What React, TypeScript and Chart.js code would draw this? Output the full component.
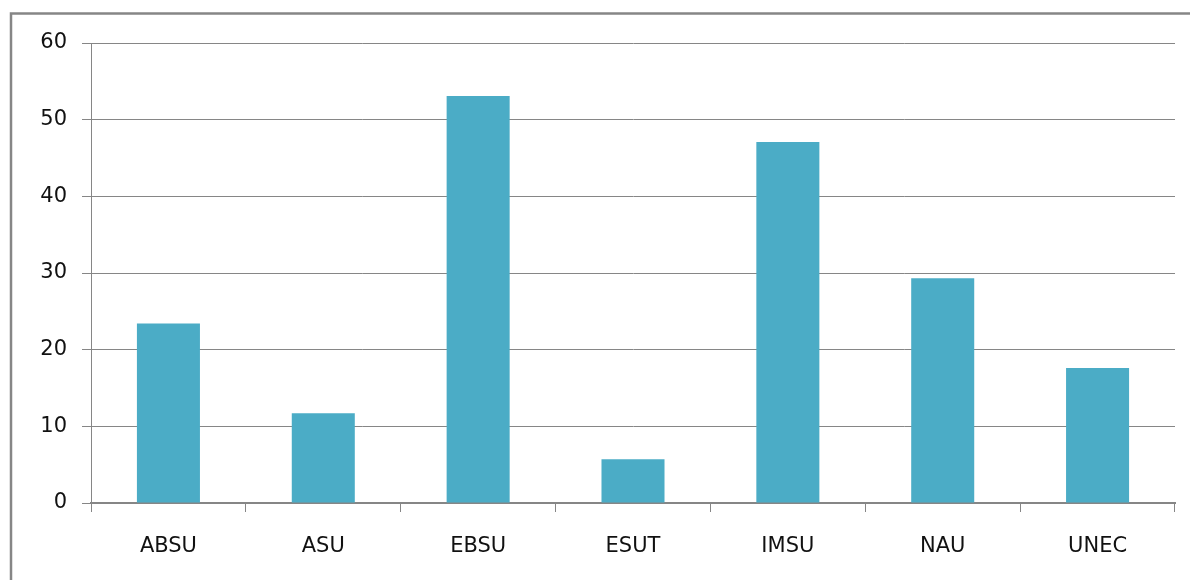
import React, { useEffect, useRef } from "react";
import { Chart, registerables } from "chart.js";

Chart.register(...registerables);

const categories = ["ABSU", "ASU", "EBSU", "ESUT", "IMSU", "NAU", "UNEC"];
const values = [23.4, 11.7, 53.1, 5.7, 47.1, 29.3, 17.6];
const yTicks = [0, 10, 20, 30, 40, 50, 60];

const GRID = "#868686";
const BAR = "#4BACC6";
const FONT = { family: "'DejaVu Sans', sans-serif", size: 21 };

const framePlugin = {
  id: "frame",
  beforeDraw(chart: any) {
    const ctx = chart.ctx;
    ctx.save();
    ctx.fillStyle = "#ffffff";
    ctx.fillRect(0, 0, chart.width, chart.height);
    ctx.strokeStyle = GRID;
    ctx.lineWidth = 2.5;
    ctx.strokeRect(11, 13.5, chart.width + 20, chart.height + 20);
    ctx.restore();
  },
};

export default function App() {
  const ref = useRef<HTMLCanvasElement | null>(null);
  useEffect(() => {
    if (!ref.current) return;
    const chart = new Chart(ref.current, {
      type: "bar",
      data: {
        labels: categories,
        datasets: [
          {
            data: values,
            backgroundColor: BAR,
            borderWidth: 0,
            categoryPercentage: 1,
            barPercentage: 0.407,
          },
        ],
      },
      plugins: [framePlugin],
      options: {
        animation: false,
        responsive: false,
        maintainAspectRatio: false,
        layout: { padding: { left: 0, top: 43, right: 15, bottom: 0 } },
        plugins: { legend: { display: false }, tooltip: { enabled: false } },
        scales: {
          x: {
            offset: true,
            grid: {
              offset: true,
              drawOnChartArea: false,
              drawTicks: true,
              tickLength: 9,
              color: GRID,
              lineWidth: 1,
            },
            border: { color: GRID, width: 2 },
            ticks: { color: "#111", font: FONT, padding: 22, maxRotation: 0 },
            afterFit: (s: any) => {
              s.height = 77;
            },
          },
          y: {
            min: 0,
            max: 60,
            afterBuildTicks: (s: any) => {
              s.ticks = yTicks.map((v) => ({ value: v }));
            },
            grid: { color: GRID, lineWidth: 1, tickLength: 9 },
            border: { color: GRID, width: 1 },
            ticks: { color: "#111", font: FONT, padding: 15 },
            afterFit: (s: any) => {
              s.width = 91;
            },
          },
        },
      },
    } as any);
    return () => chart.destroy();
  }, []);
  return (
    <div style={{ position: "absolute", left: 0, top: 0, width: 1190, height: 580 }}>
      <canvas ref={ref} width={1190} height={580} style={{ display: "block" }} />
    </div>
  );
}
